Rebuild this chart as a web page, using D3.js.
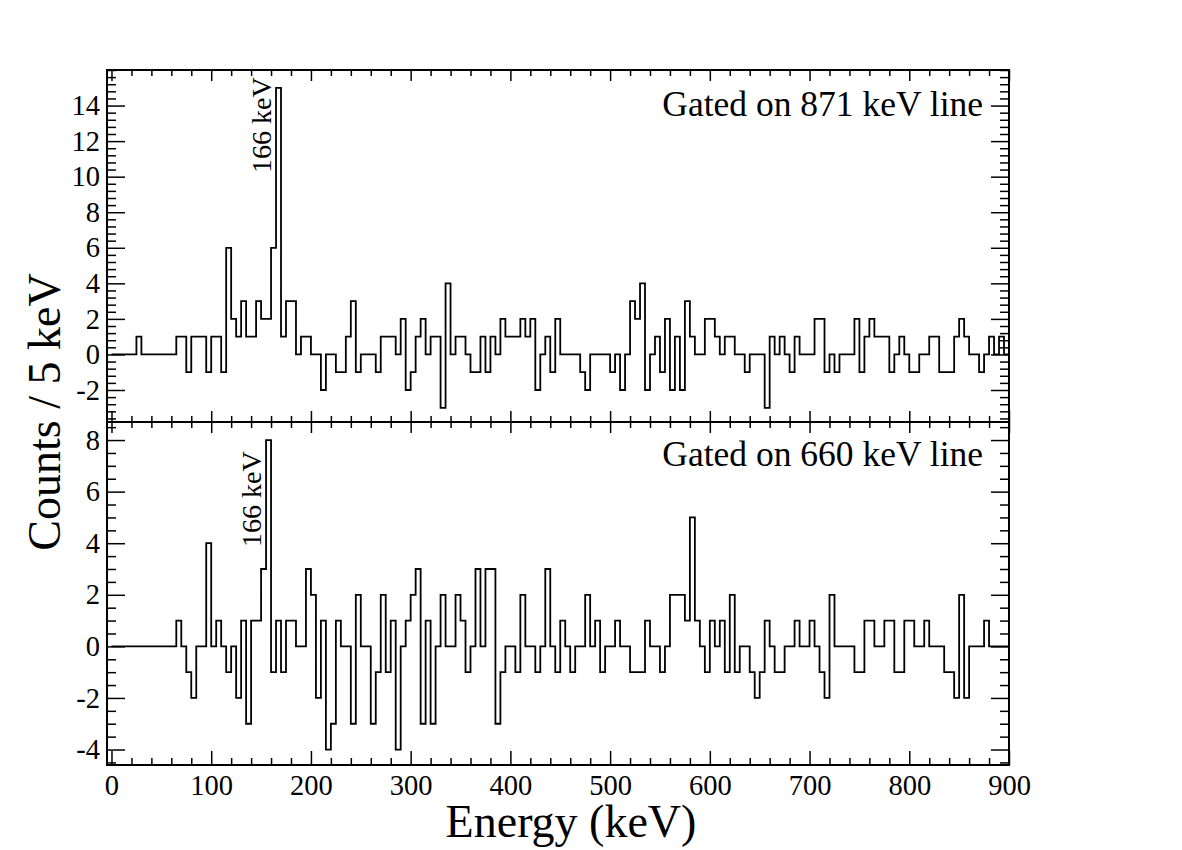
<!DOCTYPE html>
<html>
<head>
<meta charset="utf-8">
<script src="https://cdn.jsdelivr.net/npm/d3@7"></script>
<style>
  body { margin: 0; background: #fff; }
  svg text { font-family: 'Liberation Serif', 'Times New Roman', serif; fill: #000; }
</style>
</head>
<body>
<div id="chart"></div>
<script>
// bin width in keV, 180 bins from 0 to 900 keV
const binWidth = 5;

// counts per 5 keV, gated on the 871 keV line (top panel)
const gate871 = [
  0, 0, 0, 0, 0, 1, 0, 0, 0, 0, 0, 0, 0, 1, 1, -1, 1, 1, 1, -1,
  1, 1, -1, 6, 2, 1, 3, 1, 1, 3, 2, 2, 6, 15, 1, 3, 3, 0, 1, 1,
  0, 0, -2, 0, 0, -1, -1, 1, 3, -1, 0, 0, 0, -1, 1, 1, 1, 0, 2, -2,
  -1, 1, 2, 0, 1, 1, -3, 4, 0, 1, 1, 0, -1, -1, 1, -1, 1, 0, 2, 1,
  1, 1, 2, 1, 2, -2, 0, 1, -1, 2, 0, 0, 0, 0, -1, -2, 0, 0, 0, 0,
  -1, 0, -2, 0, 3, 2, 4, -2, 0, 1, -1, 2, -2, 1, -2, 3, 1, 0, 0, 2,
  2, 1, 0, 1, 1, 0, 0, -1, 0, 0, 0, -3, 1, 0, 1, 0, -1, 1, 0, 0,
  0, 2, 2, -1, 0, -1, 0, 0, 0, 2, -1, 1, 2, 1, 1, 1, -1, 0, 1, 0,
  -1, -1, 0, 0, 1, 1, -1, -1, -1, 1, 2, 1, 0, 0, -1, 0, 1, 0, 1, 0
];

// counts per 5 keV, gated on the 660 keV line (bottom panel)
const gate660 = [
  0, 0, 0, 0, 0, 0, 0, 0, 0, 0, 0, 0, 0, 1, 0, -1, -2, 0, 0, 4,
  0, 1, 0, -1, 0, -2, 1, -3, 1, 1, 3, 8, -1, 1, -1, 1, 1, 0, 0, 3,
  2, -2, 1, -4, -3, 1, 0, 0, -3, 2, 0, 0, -3, -1, 2, -1, 1, -4, 0, 1,
  2, 3, -3, 1, -3, 0, 2, 0, 0, 2, 1, -1, 0, 3, 0, 3, 3, -3, -1, 0,
  0, -1, 2, 0, 0, -1, 0, 3, 0, -1, 1, 0, -1, 0, 0, 2, 0, 1, -1, 0,
  0, 1, 0, 0, -1, -1, -1, 1, 0, 0, -1, 0, 2, 2, 2, 1, 5, 1, 0, -1,
  1, 0, 1, -1, 2, -1, 0, 0, -1, -2, -1, 1, 0, -1, -1, 0, 0, 1, 0, 0,
  1, 0, -1, -2, 2, 0, 0, 0, 0, -1, -1, 1, 1, 0, 0, 1, 1, -1, -1, 1,
  1, 0, 0, 1, 0, 0, 0, -1, -1, -2, 2, -2, 0, 0, 0, 1, 0, 0, 0, 0
];

const xTicks = [0, 100, 200, 300, 400, 500, 600, 700, 800, 900];
const topYTicks = [-2, 0, 2, 4, 6, 8, 10, 12, 14];
const bottomYTicks = [-4, -2, 0, 2, 4, 6, 8];
const titles = ['Gated on 871 keV line', 'Gated on 660 keV line'];
const peakLabel = '166 keV';
const xTitle = 'Energy (keV)';
const yTitle = 'Counts / 5 keV';

const width = 1182;
const height = 850;
const frame = { left: 107, right: 1009, top: 70, mid: 422, bottom: 765 };
const serif = "'Liberation Serif', 'Times New Roman', serif";

const svg = d3.select('#chart').append('svg')
  .attr('width', width)
  .attr('height', height);

const x = d3.scaleLinear().domain([-4.5, 900]).range([frame.left, frame.right]);

const panels = [
  {
    data: gate871, y: d3.scaleLinear().domain([-3.8, 16]).range([frame.mid, frame.top]),
    ticks: topYTicks, minorStep: 0.4, title: titles[0],
    titleY: 116, peakX: 271, peakY: 173,
  },
  {
    data: gate660, y: d3.scaleLinear().domain([-4.6, 8.7]).range([frame.bottom, frame.mid]),
    ticks: bottomYTicks, minorStep: 0.5, title: titles[1],
    titleY: 466, peakX: 261, peakY: 547,
  },
];

// minor values between majors
function minors(domain, step, majors) {
  const out = [];
  const k0 = Math.ceil(domain[0] / step);
  const k1 = Math.floor(domain[1] / step + 1e-9);
  for (let k = k0; k <= k1; k++) {
    const v = +(k * step).toFixed(4);
    if (!majors.some((m) => Math.abs(m - v) < 1e-6)) out.push(v);
  }
  return out;
}

function styleAxis(g) {
  g.select('.domain').remove();
  g.selectAll('line').attr('stroke', '#000').attr('stroke-width', 1.5);
  g.attr('font-family', serif).attr('font-size', 28.5);
  g.selectAll('text').style('font-family', serif);
}

const xMinor = minors([0, 900], 20, xTicks);

panels.forEach((p, idx) => {
  const yTop = p.y.range()[1];
  const yBot = p.y.range()[0];
  const g = svg.append('g');
  const fmt = (d) => String(d);

  // y axes, ticks pointing inward
  g.append('g').attr('transform', `translate(${frame.left},0)`)
    .call(d3.axisLeft(p.y).tickValues(p.ticks).tickSize(-18).tickPadding(7).tickFormat(fmt))
    .call(styleAxis);
  g.append('g').attr('transform', `translate(${frame.left},0)`)
    .call(d3.axisLeft(p.y).tickValues(minors(p.y.domain(), p.minorStep, p.ticks)).tickSize(-9).tickFormat(''))
    .call(styleAxis);
  g.append('g').attr('transform', `translate(${frame.right},0)`)
    .call(d3.axisRight(p.y).tickValues(p.ticks).tickSize(-18).tickFormat(''))
    .call(styleAxis);
  g.append('g').attr('transform', `translate(${frame.right},0)`)
    .call(d3.axisRight(p.y).tickValues(minors(p.y.domain(), p.minorStep, p.ticks)).tickSize(-9).tickFormat(''))
    .call(styleAxis);

  // x axes on top and bottom edge of the panel
  const isLast = idx === panels.length - 1;
  g.append('g').attr('transform', `translate(0,${yTop})`)
    .call(d3.axisTop(x).tickValues(xTicks).tickSize(-11).tickFormat(''))
    .call(styleAxis);
  g.append('g').attr('transform', `translate(0,${yTop})`)
    .call(d3.axisTop(x).tickValues(xMinor).tickSize(-6).tickFormat(''))
    .call(styleAxis);
  g.append('g').attr('transform', `translate(0,${yBot})`)
    .call(d3.axisBottom(x).tickValues(xTicks).tickSize(isLast ? -14 : -11).tickPadding(10)
      .tickFormat(isLast ? fmt : ''))
    .call(styleAxis);
  g.append('g').attr('transform', `translate(0,${yBot})`)
    .call(d3.axisBottom(x).tickValues(xMinor).tickSize(isLast ? -7 : -6).tickFormat(''))
    .call(styleAxis);

  // histogram as a step line
  const clipId = `clip${idx}`;
  svg.append('clipPath').attr('id', clipId)
    .append('rect')
    .attr('x', frame.left).attr('y', yTop)
    .attr('width', frame.right - frame.left).attr('height', yBot - yTop);

  const pts = p.data.map((v, i) => [i * binWidth, v]);
  pts.push([p.data.length * binWidth, p.data[p.data.length - 1]]);
  const line = d3.line()
    .x((d) => x(d[0]))
    .y((d) => p.y(d[1]))
    .curve(d3.curveStepAfter);

  g.append('path')
    .attr('clip-path', `url(#${clipId})`)
    .attr('d', line(pts))
    .attr('fill', 'none')
    .attr('stroke', '#000')
    .attr('stroke-width', 1.8);

  // frame
  g.append('rect')
    .attr('x', frame.left).attr('y', yTop)
    .attr('width', frame.right - frame.left).attr('height', yBot - yTop)
    .attr('fill', 'none').attr('stroke', '#000').attr('stroke-width', 2);

  g.append('text')
    .attr('x', 983).attr('y', p.titleY)
    .attr('text-anchor', 'end')
    .attr('font-size', 35.5)
    .text(p.title);

  g.append('text')
    .attr('transform', `translate(${p.peakX},${p.peakY}) rotate(-90)`)
    .attr('font-size', 28)
    .text(peakLabel);
});

svg.append('text')
  .attr('x', 571).attr('y', 837)
  .attr('text-anchor', 'middle')
  .attr('font-size', 46)
  .text(xTitle);

svg.append('text')
  .attr('transform', 'translate(60,412) rotate(-90)')
  .attr('text-anchor', 'middle')
  .attr('font-size', 46)
  .text(yTitle);
</script>
</body>
</html>
